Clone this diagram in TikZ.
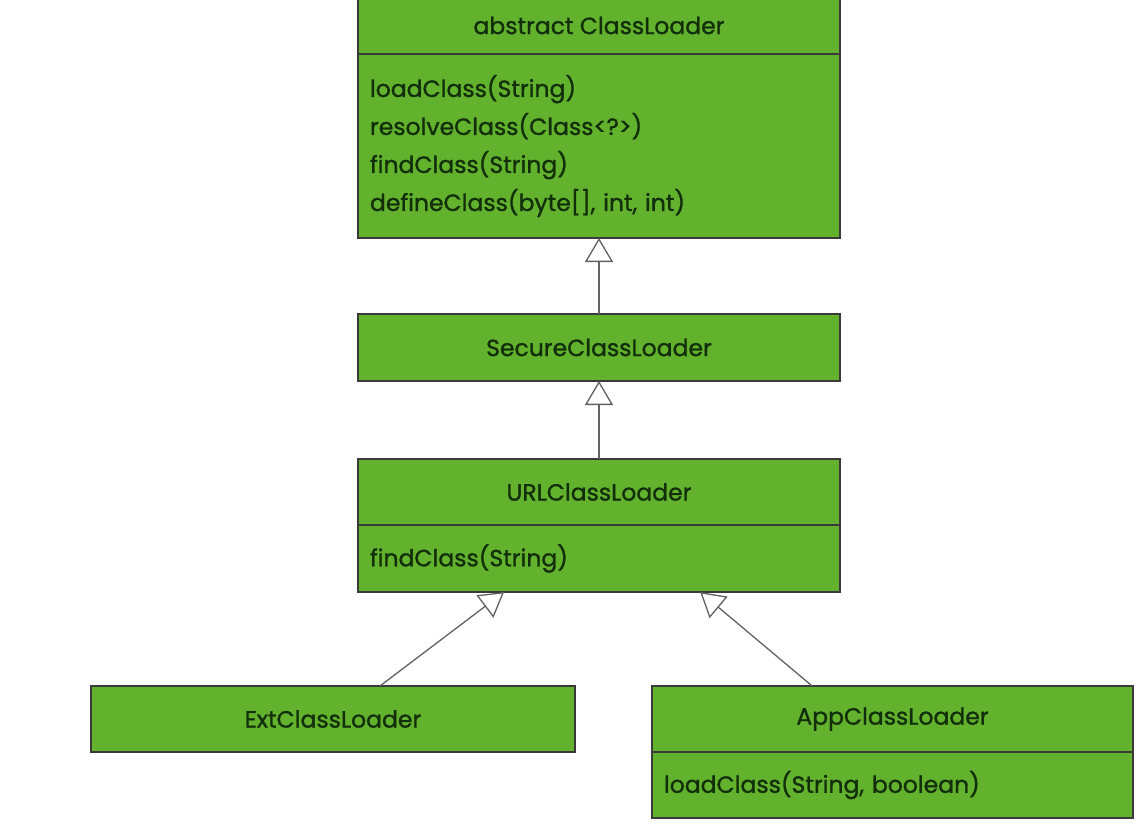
\documentclass[tikz,border=0pt]{standalone}
\usepackage{fontspec}
\setmainfont{Poppins}[UprightFeatures={FakeBold=1.2}]
\usetikzlibrary{positioning}
\usetikzlibrary{calc}
\usetikzlibrary{arrows.meta}
\definecolor{umlgreen}{RGB}{99,178,46}
\definecolor{umlline}{RGB}{58,58,58}
\definecolor{umltext}{RGB}{18,46,10}
\tikzset{%
  myclass/.style={rectangle, draw=umlline, line width=1.5pt, fill=umlgreen, text=umltext,
    minimum width=482pt, inner sep=0pt, outer sep=0pt, font=\fontsize{23.5}{38}\selectfont},
  myhead/.style={myclass, minimum height=57pt},
  mybody/.style={myclass, align=left, text width=458pt, inner xsep=12pt},
  myedge/.style={-{Triangle[length=24pt, width=28pt, fill=white]}, draw=umlline!80, line width=1.3pt}
}

\begin{document}
\begin{tikzpicture}[x=1pt, y=-1pt, node distance=0pt]
  \useasboundingbox (0,0) rectangle (1143,823);
  % top of the tree
  \node[myhead] (clh) at (599,25.5) {abstract ClassLoader};
  \node[mybody, minimum height=184pt, below=0pt of clh] (clb)
    {loadClass(String)\\resolveClass(Class<?>)\\findClass(String)\\defineClass(byte[], int, int)};
  \node[myhead, minimum height=67pt, below=76pt of clb] (sec) {SecureClassLoader};
  \node[myhead, minimum height=66pt, below=78pt of sec] (urlh) {URLClassLoader};
  \node[mybody, minimum height=67pt, below=0pt of urlh] (urlb) {findClass(String)};
  % leaves
  \node[myhead, minimum width=484pt, minimum height=66pt] (ext) at (333,719) {ExtClassLoader};
  \node[myhead, minimum width=481pt, minimum height=66pt] (apph) at (892.5,719) {AppClassLoader};
  \node[mybody, minimum width=481pt, text width=457pt, minimum height=66pt, below=0pt of apph] (appb)
    {loadClass(String, boolean)};
  % inheritance
  \coordinate (urlL) at ($(urlb.south west)!0.303!(urlb.south east)$);
  \coordinate (urlR) at ($(urlb.south west)!0.71!(urlb.south east)$);
  \coordinate (extT) at ($(ext.north west)!0.597!(ext.north east)$);
  \coordinate (appT) at ($(apph.north west)!0.333!(apph.north east)$);
  \draw [myedge] (sec) -- (clb);
  \draw [myedge] (urlh) -- (sec);
  \draw [myedge] (extT) -- (urlL);
  \draw [myedge] (appT) -- (urlR);
\end{tikzpicture}
\end{document}
